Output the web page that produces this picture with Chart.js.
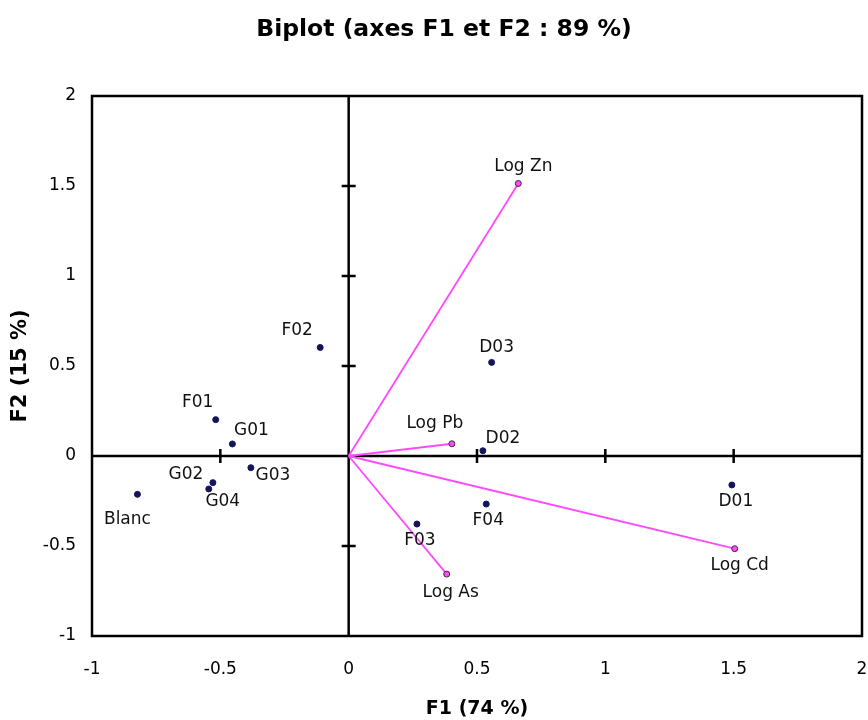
<!DOCTYPE html>
<html>
<head>
<meta charset="utf-8">
<script src="https://cdn.jsdelivr.net/npm/chart.js@4.4.0/dist/chart.umd.min.js"></script>
<style>
  html, body { margin: 0; padding: 0; background: #fff; }
  #biplot { display: block; }
</style>
</head>
<body>
<canvas id="biplot" width="868" height="720"></canvas>
<script>
// === Data ===
const obsNames = ["Blanc", "F01", "F02", "F03", "F04", "G01", "G02", "G03", "G04", "D01", "D02", "D03"];
const obsF1 = [-0.823, -0.518, -0.111, 0.266, 0.536, -0.453, -0.529, -0.381, -0.545, 1.493, 0.523, 0.557];
const obsF2 = [-0.213, 0.202, 0.603, -0.378, -0.267, 0.067, -0.148, -0.065, -0.183, -0.161, 0.029, 0.520];

const varNames = ["Log Cd", "Log Pb", "Log Zn", "Log As"];
const varF1 = [1.504, 0.402, 0.661, 0.382];
const varF2 = [-0.515, 0.068, 1.514, -0.656];

const tickValues = [-1, -0.5, 0, 0.5, 1, 1.5, 2];
const chartTitle = "Biplot (axes F1 et F2 : 89 %)";

// label offsets in px (style only)
const obsLabelOffset = [[-10, 25], [-18, -17], [-23, -17], [3, 17], [2, 17], [19, -13],
                        [-27, -8], [22, 8], [14, 13], [4, 17], [20, -12], [5, -15]];
const varLabelOffset = [[5, 17], [-17, -20], [5, -17], [4, 18]];

const MAGENTA = "rgb(255,72,255)";
const NAVY = "#14145a";
const FONT = "'DejaVu Sans', Verdana, sans-serif";

// === Datasets ===
const datasets = [];
varNames.forEach((name, i) => {
  datasets.push({
    type: "line",
    label: name,
    data: [{ x: 0, y: 0 }, { x: varF1[i], y: varF2[i] }],
    borderColor: MAGENTA,
    borderWidth: 1.8,
    pointRadius: [0, 3],
    pointBackgroundColor: MAGENTA,
    pointBorderColor: "#333",
    pointBorderWidth: 1,
    tagNames: [null, name],
    tagOffsets: [null, varLabelOffset[i]]
  });
});
datasets.push({
  type: "scatter",
  label: "Observations",
  data: obsNames.map((n, i) => ({ x: obsF1[i], y: obsF2[i] })),
  pointRadius: 3,
  pointBackgroundColor: NAVY,
  pointBorderColor: NAVY,
  tagNames: obsNames,
  tagOffsets: obsLabelOffset
});

// === Title (centred over the plot box, not the canvas) ===
const titlePlugin = {
  id: "biplotTitle",
  afterDraw(chart) {
    const ctx = chart.ctx;
    ctx.save();
    ctx.font = "bold 23.5px " + FONT;
    ctx.fillStyle = "#000";
    ctx.textAlign = "center";
    ctx.textBaseline = "middle";
    ctx.fillText(chartTitle, 444, 30);
    ctx.restore();
  }
};

// === Frame + zero axes with cross ticks ===
const framePlugin = {
  id: "frame",
  beforeDatasetsDraw(chart) {
    const { ctx, chartArea: a, scales: { x, y } } = chart;
    const x0 = x.getPixelForValue(0);
    const y0 = y.getPixelForValue(0);
    ctx.save();
    ctx.strokeStyle = "#000";
    ctx.lineWidth = 2.5;
    ctx.strokeRect(a.left, a.top, a.right - a.left, a.bottom - a.top);
    ctx.beginPath();
    ctx.moveTo(x0, a.top); ctx.lineTo(x0, a.bottom);
    ctx.moveTo(a.left, y0); ctx.lineTo(a.right, y0);
    tickValues.forEach(v => {
      if (v === 0) return;
      if (v > x.min && v < x.max) {
        const px = x.getPixelForValue(v);
        ctx.moveTo(px, y0 - 7); ctx.lineTo(px, y0 + 7);
      }
      if (v > y.min && v < y.max) {
        const py = y.getPixelForValue(v);
        ctx.moveTo(x0 - 7, py); ctx.lineTo(x0 + 7, py);
      }
    });
    ctx.stroke();
    ctx.restore();
  }
};

// === Point labels ===
const labelPlugin = {
  id: "pointLabels",
  afterDatasetsDraw(chart) {
    const ctx = chart.ctx;
    ctx.save();
    ctx.font = "17px " + FONT;
    ctx.fillStyle = "#111";
    ctx.textAlign = "center";
    ctx.textBaseline = "middle";
    chart.data.datasets.forEach((ds, di) => {
      const meta = chart.getDatasetMeta(di);
      meta.data.forEach((el, i) => {
        const name = ds.tagNames[i];
        if (!name) return;
        const off = ds.tagOffsets[i];
        ctx.fillText(name, el.x + off[0], el.y + off[1]);
      });
    });
    ctx.restore();
  }
};

const chart = new Chart(document.getElementById("biplot"), {
  type: "scatter",
  data: { datasets },
  options: {
    responsive: false,
    animation: false,
    layout: { padding: { left: 0, right: 6, top: 96, bottom: 0 } },
    plugins: {
      legend: { display: false },
      tooltip: { enabled: false },
      title: { display: false }
    },
    scales: {
      x: {
        type: "linear",
        min: -1, max: 2,
        grid: { display: false, drawTicks: false },
        border: { display: false },
        ticks: {
          stepSize: 0.5,
          color: "#000",
          padding: 23,
          font: { family: FONT, size: 17 },
          callback: v => String(v)
        },
        title: {
          display: true,
          text: "F1 (74 %)",
          color: "#000",
          font: { family: FONT, size: 19, weight: "bold" },
          padding: { top: 0, bottom: 0 }
        },
        afterFit(scale) {
          scale.height = 84;
          scale.paddingLeft = 0;
          scale.paddingRight = 0;
        }
      },
      y: {
        type: "linear",
        min: -1, max: 2,
        grid: { display: false, drawTicks: false },
        border: { display: false },
        ticks: {
          stepSize: 0.5,
          color: "#000",
          padding: 16,
          font: { family: FONT, size: 17 },
          callback: v => String(v)
        },
        title: {
          display: true,
          text: "F2 (15 %)",
          color: "#000",
          font: { family: FONT, size: 21, weight: "bold" },
          padding: { top: 8, bottom: 0 }
        },
        afterFit(scale) {
          scale.width = 92;
          scale.paddingTop = 0;
          scale.paddingBottom = 0;
        }
      }
    }
  },
  plugins: [framePlugin, labelPlugin, titlePlugin]
});
</script>
</body>
</html>
